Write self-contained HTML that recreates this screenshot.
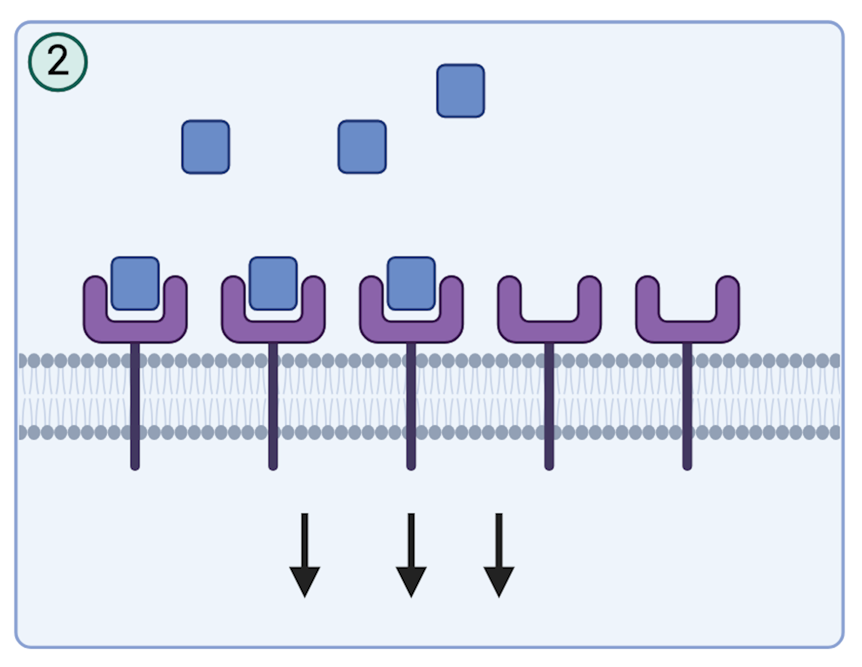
<!DOCTYPE html><html><head><meta charset="utf-8"><style>html,body{margin:0;padding:0;background:#fff;width:862px;height:667px;overflow:hidden}svg{display:block}</style></head><body><div id="w"><svg width="862" height="667" viewBox="0 0 862 667"><defs><filter id="bl" x="0" y="0" width="862" height="667" filterUnits="userSpaceOnUse"><feConvolveMatrix order="5" kernelMatrix="0.00123 -0.00473 -0.02800 -0.00473 0.00123 -0.00473 0.01823 0.10800 0.01823 -0.00473 -0.02800 0.10800 0.64000 0.10800 -0.02800 -0.00473 0.01823 0.10800 0.01823 -0.00473 0.00123 -0.00473 -0.02800 -0.00473 0.00123" divisor="1" edgeMode="duplicate"/></filter><clipPath id="pc"><rect x="19" y="24" width="821" height="621" rx="13"/></clipPath></defs><g filter="url(#bl)"><rect x="0" y="0" width="862" height="667" fill="#fff"/><rect x="15.9" y="22" width="827.2" height="625.3" rx="15" fill="#eef4fb" stroke="#8aa1d2" stroke-width="3.3"/><g clip-path="url(#pc)"><path d="M18.60 366Q18.50 384 16.20 394.2M22.60 366Q22.70 384 25.00 394.2M18.60 427Q18.50 409 16.20 398.4M22.60 427Q22.70 409 25.00 398.4M31.97 366Q31.87 384 29.57 394.2M35.97 366Q36.07 384 38.37 394.2M31.97 427Q31.87 409 29.57 398.4M35.97 427Q36.07 409 38.37 398.4M45.34 366Q45.24 384 42.94 394.2M49.34 366Q49.44 384 51.74 394.2M45.34 427Q45.24 409 42.94 398.4M49.34 427Q49.44 409 51.74 398.4M58.70 366Q58.60 384 56.30 394.2M62.70 366Q62.80 384 65.10 394.2M58.70 427Q58.60 409 56.30 398.4M62.70 427Q62.80 409 65.10 398.4M72.07 366Q71.97 384 69.67 394.2M76.07 366Q76.17 384 78.47 394.2M72.07 427Q71.97 409 69.67 398.4M76.07 427Q76.17 409 78.47 398.4M85.43 366Q85.33 384 83.03 394.2M89.43 366Q89.53 384 91.83 394.2M85.43 427Q85.33 409 83.03 398.4M89.43 427Q89.53 409 91.83 398.4M98.80 366Q98.70 384 96.40 394.2M102.80 366Q102.90 384 105.20 394.2M98.80 427Q98.70 409 96.40 398.4M102.80 427Q102.90 409 105.20 398.4M112.17 366Q112.07 384 109.77 394.2M116.17 366Q116.27 384 118.57 394.2M112.17 427Q112.07 409 109.77 398.4M116.17 427Q116.27 409 118.57 398.4M125.53 366Q125.43 384 123.13 394.2M129.53 366Q129.63 384 131.93 394.2M125.53 427Q125.43 409 123.13 398.4M129.53 427Q129.63 409 131.93 398.4M138.90 366Q138.80 384 136.50 394.2M142.90 366Q143.00 384 145.30 394.2M138.90 427Q138.80 409 136.50 398.4M142.90 427Q143.00 409 145.30 398.4M152.26 366Q152.16 384 149.86 394.2M156.26 366Q156.36 384 158.66 394.2M152.26 427Q152.16 409 149.86 398.4M156.26 427Q156.36 409 158.66 398.4M165.63 366Q165.53 384 163.23 394.2M169.63 366Q169.73 384 172.03 394.2M165.63 427Q165.53 409 163.23 398.4M169.63 427Q169.73 409 172.03 398.4M179.00 366Q178.90 384 176.60 394.2M183.00 366Q183.10 384 185.40 394.2M179.00 427Q178.90 409 176.60 398.4M183.00 427Q183.10 409 185.40 398.4M192.36 366Q192.26 384 189.96 394.2M196.36 366Q196.46 384 198.76 394.2M192.36 427Q192.26 409 189.96 398.4M196.36 427Q196.46 409 198.76 398.4M205.73 366Q205.63 384 203.33 394.2M209.73 366Q209.83 384 212.13 394.2M205.73 427Q205.63 409 203.33 398.4M209.73 427Q209.83 409 212.13 398.4M219.09 366Q218.99 384 216.69 394.2M223.09 366Q223.19 384 225.49 394.2M219.09 427Q218.99 409 216.69 398.4M223.09 427Q223.19 409 225.49 398.4M232.46 366Q232.36 384 230.06 394.2M236.46 366Q236.56 384 238.86 394.2M232.46 427Q232.36 409 230.06 398.4M236.46 427Q236.56 409 238.86 398.4M245.83 366Q245.73 384 243.43 394.2M249.83 366Q249.93 384 252.23 394.2M245.83 427Q245.73 409 243.43 398.4M249.83 427Q249.93 409 252.23 398.4M259.19 366Q259.09 384 256.79 394.2M263.19 366Q263.29 384 265.59 394.2M259.19 427Q259.09 409 256.79 398.4M263.19 427Q263.29 409 265.59 398.4M272.56 366Q272.46 384 270.16 394.2M276.56 366Q276.66 384 278.96 394.2M272.56 427Q272.46 409 270.16 398.4M276.56 427Q276.66 409 278.96 398.4M285.92 366Q285.82 384 283.52 394.2M289.92 366Q290.02 384 292.32 394.2M285.92 427Q285.82 409 283.52 398.4M289.92 427Q290.02 409 292.32 398.4M299.29 366Q299.19 384 296.89 394.2M303.29 366Q303.39 384 305.69 394.2M299.29 427Q299.19 409 296.89 398.4M303.29 427Q303.39 409 305.69 398.4M312.66 366Q312.56 384 310.26 394.2M316.66 366Q316.76 384 319.06 394.2M312.66 427Q312.56 409 310.26 398.4M316.66 427Q316.76 409 319.06 398.4M326.02 366Q325.92 384 323.62 394.2M330.02 366Q330.12 384 332.42 394.2M326.02 427Q325.92 409 323.62 398.4M330.02 427Q330.12 409 332.42 398.4M339.39 366Q339.29 384 336.99 394.2M343.39 366Q343.49 384 345.79 394.2M339.39 427Q339.29 409 336.99 398.4M343.39 427Q343.49 409 345.79 398.4M352.75 366Q352.65 384 350.35 394.2M356.75 366Q356.85 384 359.15 394.2M352.75 427Q352.65 409 350.35 398.4M356.75 427Q356.85 409 359.15 398.4M366.12 366Q366.02 384 363.72 394.2M370.12 366Q370.22 384 372.52 394.2M366.12 427Q366.02 409 363.72 398.4M370.12 427Q370.22 409 372.52 398.4M379.49 366Q379.39 384 377.09 394.2M383.49 366Q383.59 384 385.89 394.2M379.49 427Q379.39 409 377.09 398.4M383.49 427Q383.59 409 385.89 398.4M392.85 366Q392.75 384 390.45 394.2M396.85 366Q396.95 384 399.25 394.2M392.85 427Q392.75 409 390.45 398.4M396.85 427Q396.95 409 399.25 398.4M406.22 366Q406.12 384 403.82 394.2M410.22 366Q410.32 384 412.62 394.2M406.22 427Q406.12 409 403.82 398.4M410.22 427Q410.32 409 412.62 398.4M419.58 366Q419.48 384 417.18 394.2M423.58 366Q423.68 384 425.98 394.2M419.58 427Q419.48 409 417.18 398.4M423.58 427Q423.68 409 425.98 398.4M432.95 366Q432.85 384 430.55 394.2M436.95 366Q437.05 384 439.35 394.2M432.95 427Q432.85 409 430.55 398.4M436.95 427Q437.05 409 439.35 398.4M446.32 366Q446.22 384 443.92 394.2M450.32 366Q450.42 384 452.72 394.2M446.32 427Q446.22 409 443.92 398.4M450.32 427Q450.42 409 452.72 398.4M459.68 366Q459.58 384 457.28 394.2M463.68 366Q463.78 384 466.08 394.2M459.68 427Q459.58 409 457.28 398.4M463.68 427Q463.78 409 466.08 398.4M473.05 366Q472.95 384 470.65 394.2M477.05 366Q477.15 384 479.45 394.2M473.05 427Q472.95 409 470.65 398.4M477.05 427Q477.15 409 479.45 398.4M486.41 366Q486.31 384 484.01 394.2M490.41 366Q490.51 384 492.81 394.2M486.41 427Q486.31 409 484.01 398.4M490.41 427Q490.51 409 492.81 398.4M499.78 366Q499.68 384 497.38 394.2M503.78 366Q503.88 384 506.18 394.2M499.78 427Q499.68 409 497.38 398.4M503.78 427Q503.88 409 506.18 398.4M513.15 366Q513.05 384 510.75 394.2M517.15 366Q517.25 384 519.55 394.2M513.15 427Q513.05 409 510.75 398.4M517.15 427Q517.25 409 519.55 398.4M526.51 366Q526.41 384 524.11 394.2M530.51 366Q530.61 384 532.91 394.2M526.51 427Q526.41 409 524.11 398.4M530.51 427Q530.61 409 532.91 398.4M539.88 366Q539.78 384 537.48 394.2M543.88 366Q543.98 384 546.28 394.2M539.88 427Q539.78 409 537.48 398.4M543.88 427Q543.98 409 546.28 398.4M553.24 366Q553.14 384 550.84 394.2M557.24 366Q557.34 384 559.64 394.2M553.24 427Q553.14 409 550.84 398.4M557.24 427Q557.34 409 559.64 398.4M566.61 366Q566.51 384 564.21 394.2M570.61 366Q570.71 384 573.01 394.2M566.61 427Q566.51 409 564.21 398.4M570.61 427Q570.71 409 573.01 398.4M579.98 366Q579.88 384 577.58 394.2M583.98 366Q584.08 384 586.38 394.2M579.98 427Q579.88 409 577.58 398.4M583.98 427Q584.08 409 586.38 398.4M593.34 366Q593.24 384 590.94 394.2M597.34 366Q597.44 384 599.74 394.2M593.34 427Q593.24 409 590.94 398.4M597.34 427Q597.44 409 599.74 398.4M606.71 366Q606.61 384 604.31 394.2M610.71 366Q610.81 384 613.11 394.2M606.71 427Q606.61 409 604.31 398.4M610.71 427Q610.81 409 613.11 398.4M620.07 366Q619.97 384 617.67 394.2M624.07 366Q624.17 384 626.47 394.2M620.07 427Q619.97 409 617.67 398.4M624.07 427Q624.17 409 626.47 398.4M633.44 366Q633.34 384 631.04 394.2M637.44 366Q637.54 384 639.84 394.2M633.44 427Q633.34 409 631.04 398.4M637.44 427Q637.54 409 639.84 398.4M646.81 366Q646.71 384 644.41 394.2M650.81 366Q650.91 384 653.21 394.2M646.81 427Q646.71 409 644.41 398.4M650.81 427Q650.91 409 653.21 398.4M660.17 366Q660.07 384 657.77 394.2M664.17 366Q664.27 384 666.57 394.2M660.17 427Q660.07 409 657.77 398.4M664.17 427Q664.27 409 666.57 398.4M673.54 366Q673.44 384 671.14 394.2M677.54 366Q677.64 384 679.94 394.2M673.54 427Q673.44 409 671.14 398.4M677.54 427Q677.64 409 679.94 398.4M686.90 366Q686.80 384 684.50 394.2M690.90 366Q691.00 384 693.30 394.2M686.90 427Q686.80 409 684.50 398.4M690.90 427Q691.00 409 693.30 398.4M700.27 366Q700.17 384 697.87 394.2M704.27 366Q704.37 384 706.67 394.2M700.27 427Q700.17 409 697.87 398.4M704.27 427Q704.37 409 706.67 398.4M713.64 366Q713.54 384 711.24 394.2M717.64 366Q717.74 384 720.04 394.2M713.64 427Q713.54 409 711.24 398.4M717.64 427Q717.74 409 720.04 398.4M727.00 366Q726.90 384 724.60 394.2M731.00 366Q731.10 384 733.40 394.2M727.00 427Q726.90 409 724.60 398.4M731.00 427Q731.10 409 733.40 398.4M740.37 366Q740.27 384 737.97 394.2M744.37 366Q744.47 384 746.77 394.2M740.37 427Q740.27 409 737.97 398.4M744.37 427Q744.47 409 746.77 398.4M753.73 366Q753.63 384 751.33 394.2M757.73 366Q757.83 384 760.13 394.2M753.73 427Q753.63 409 751.33 398.4M757.73 427Q757.83 409 760.13 398.4M767.10 366Q767.00 384 764.70 394.2M771.10 366Q771.20 384 773.50 394.2M767.10 427Q767.00 409 764.70 398.4M771.10 427Q771.20 409 773.50 398.4M780.47 366Q780.37 384 778.07 394.2M784.47 366Q784.57 384 786.87 394.2M780.47 427Q780.37 409 778.07 398.4M784.47 427Q784.57 409 786.87 398.4M793.83 366Q793.73 384 791.43 394.2M797.83 366Q797.93 384 800.23 394.2M793.83 427Q793.73 409 791.43 398.4M797.83 427Q797.93 409 800.23 398.4M807.20 366Q807.10 384 804.80 394.2M811.20 366Q811.30 384 813.60 394.2M807.20 427Q807.10 409 804.80 398.4M811.20 427Q811.30 409 813.60 398.4M820.56 366Q820.46 384 818.16 394.2M824.56 366Q824.66 384 826.96 394.2M820.56 427Q820.46 409 818.16 398.4M824.56 427Q824.66 409 826.96 398.4M833.93 366Q833.83 384 831.53 394.2M837.93 366Q838.03 384 840.33 394.2M833.93 427Q833.83 409 831.53 398.4M837.93 427Q838.03 409 840.33 398.4M847.30 366Q847.20 384 844.90 394.2M851.30 366Q851.40 384 853.70 394.2M847.30 427Q847.20 409 844.90 398.4M851.30 427Q851.40 409 853.70 398.4" fill="none" stroke="#c9d5e8" stroke-width="1.8" stroke-linecap="butt"/><g fill="#92a0b5"><ellipse cx="20.60" cy="360.75" rx="6.55" ry="7.4"/><ellipse cx="20.60" cy="432.5" rx="6.55" ry="7.4"/><ellipse cx="33.97" cy="360.75" rx="6.55" ry="7.4"/><ellipse cx="33.97" cy="432.5" rx="6.55" ry="7.4"/><ellipse cx="47.34" cy="360.75" rx="6.55" ry="7.4"/><ellipse cx="47.34" cy="432.5" rx="6.55" ry="7.4"/><ellipse cx="60.70" cy="360.75" rx="6.55" ry="7.4"/><ellipse cx="60.70" cy="432.5" rx="6.55" ry="7.4"/><ellipse cx="74.07" cy="360.75" rx="6.55" ry="7.4"/><ellipse cx="74.07" cy="432.5" rx="6.55" ry="7.4"/><ellipse cx="87.43" cy="360.75" rx="6.55" ry="7.4"/><ellipse cx="87.43" cy="432.5" rx="6.55" ry="7.4"/><ellipse cx="100.80" cy="360.75" rx="6.55" ry="7.4"/><ellipse cx="100.80" cy="432.5" rx="6.55" ry="7.4"/><ellipse cx="114.17" cy="360.75" rx="6.55" ry="7.4"/><ellipse cx="114.17" cy="432.5" rx="6.55" ry="7.4"/><ellipse cx="127.53" cy="360.75" rx="6.55" ry="7.4"/><ellipse cx="127.53" cy="432.5" rx="6.55" ry="7.4"/><ellipse cx="140.90" cy="360.75" rx="6.55" ry="7.4"/><ellipse cx="140.90" cy="432.5" rx="6.55" ry="7.4"/><ellipse cx="154.26" cy="360.75" rx="6.55" ry="7.4"/><ellipse cx="154.26" cy="432.5" rx="6.55" ry="7.4"/><ellipse cx="167.63" cy="360.75" rx="6.55" ry="7.4"/><ellipse cx="167.63" cy="432.5" rx="6.55" ry="7.4"/><ellipse cx="181.00" cy="360.75" rx="6.55" ry="7.4"/><ellipse cx="181.00" cy="432.5" rx="6.55" ry="7.4"/><ellipse cx="194.36" cy="360.75" rx="6.55" ry="7.4"/><ellipse cx="194.36" cy="432.5" rx="6.55" ry="7.4"/><ellipse cx="207.73" cy="360.75" rx="6.55" ry="7.4"/><ellipse cx="207.73" cy="432.5" rx="6.55" ry="7.4"/><ellipse cx="221.09" cy="360.75" rx="6.55" ry="7.4"/><ellipse cx="221.09" cy="432.5" rx="6.55" ry="7.4"/><ellipse cx="234.46" cy="360.75" rx="6.55" ry="7.4"/><ellipse cx="234.46" cy="432.5" rx="6.55" ry="7.4"/><ellipse cx="247.83" cy="360.75" rx="6.55" ry="7.4"/><ellipse cx="247.83" cy="432.5" rx="6.55" ry="7.4"/><ellipse cx="261.19" cy="360.75" rx="6.55" ry="7.4"/><ellipse cx="261.19" cy="432.5" rx="6.55" ry="7.4"/><ellipse cx="274.56" cy="360.75" rx="6.55" ry="7.4"/><ellipse cx="274.56" cy="432.5" rx="6.55" ry="7.4"/><ellipse cx="287.92" cy="360.75" rx="6.55" ry="7.4"/><ellipse cx="287.92" cy="432.5" rx="6.55" ry="7.4"/><ellipse cx="301.29" cy="360.75" rx="6.55" ry="7.4"/><ellipse cx="301.29" cy="432.5" rx="6.55" ry="7.4"/><ellipse cx="314.66" cy="360.75" rx="6.55" ry="7.4"/><ellipse cx="314.66" cy="432.5" rx="6.55" ry="7.4"/><ellipse cx="328.02" cy="360.75" rx="6.55" ry="7.4"/><ellipse cx="328.02" cy="432.5" rx="6.55" ry="7.4"/><ellipse cx="341.39" cy="360.75" rx="6.55" ry="7.4"/><ellipse cx="341.39" cy="432.5" rx="6.55" ry="7.4"/><ellipse cx="354.75" cy="360.75" rx="6.55" ry="7.4"/><ellipse cx="354.75" cy="432.5" rx="6.55" ry="7.4"/><ellipse cx="368.12" cy="360.75" rx="6.55" ry="7.4"/><ellipse cx="368.12" cy="432.5" rx="6.55" ry="7.4"/><ellipse cx="381.49" cy="360.75" rx="6.55" ry="7.4"/><ellipse cx="381.49" cy="432.5" rx="6.55" ry="7.4"/><ellipse cx="394.85" cy="360.75" rx="6.55" ry="7.4"/><ellipse cx="394.85" cy="432.5" rx="6.55" ry="7.4"/><ellipse cx="408.22" cy="360.75" rx="6.55" ry="7.4"/><ellipse cx="408.22" cy="432.5" rx="6.55" ry="7.4"/><ellipse cx="421.58" cy="360.75" rx="6.55" ry="7.4"/><ellipse cx="421.58" cy="432.5" rx="6.55" ry="7.4"/><ellipse cx="434.95" cy="360.75" rx="6.55" ry="7.4"/><ellipse cx="434.95" cy="432.5" rx="6.55" ry="7.4"/><ellipse cx="448.32" cy="360.75" rx="6.55" ry="7.4"/><ellipse cx="448.32" cy="432.5" rx="6.55" ry="7.4"/><ellipse cx="461.68" cy="360.75" rx="6.55" ry="7.4"/><ellipse cx="461.68" cy="432.5" rx="6.55" ry="7.4"/><ellipse cx="475.05" cy="360.75" rx="6.55" ry="7.4"/><ellipse cx="475.05" cy="432.5" rx="6.55" ry="7.4"/><ellipse cx="488.41" cy="360.75" rx="6.55" ry="7.4"/><ellipse cx="488.41" cy="432.5" rx="6.55" ry="7.4"/><ellipse cx="501.78" cy="360.75" rx="6.55" ry="7.4"/><ellipse cx="501.78" cy="432.5" rx="6.55" ry="7.4"/><ellipse cx="515.15" cy="360.75" rx="6.55" ry="7.4"/><ellipse cx="515.15" cy="432.5" rx="6.55" ry="7.4"/><ellipse cx="528.51" cy="360.75" rx="6.55" ry="7.4"/><ellipse cx="528.51" cy="432.5" rx="6.55" ry="7.4"/><ellipse cx="541.88" cy="360.75" rx="6.55" ry="7.4"/><ellipse cx="541.88" cy="432.5" rx="6.55" ry="7.4"/><ellipse cx="555.24" cy="360.75" rx="6.55" ry="7.4"/><ellipse cx="555.24" cy="432.5" rx="6.55" ry="7.4"/><ellipse cx="568.61" cy="360.75" rx="6.55" ry="7.4"/><ellipse cx="568.61" cy="432.5" rx="6.55" ry="7.4"/><ellipse cx="581.98" cy="360.75" rx="6.55" ry="7.4"/><ellipse cx="581.98" cy="432.5" rx="6.55" ry="7.4"/><ellipse cx="595.34" cy="360.75" rx="6.55" ry="7.4"/><ellipse cx="595.34" cy="432.5" rx="6.55" ry="7.4"/><ellipse cx="608.71" cy="360.75" rx="6.55" ry="7.4"/><ellipse cx="608.71" cy="432.5" rx="6.55" ry="7.4"/><ellipse cx="622.07" cy="360.75" rx="6.55" ry="7.4"/><ellipse cx="622.07" cy="432.5" rx="6.55" ry="7.4"/><ellipse cx="635.44" cy="360.75" rx="6.55" ry="7.4"/><ellipse cx="635.44" cy="432.5" rx="6.55" ry="7.4"/><ellipse cx="648.81" cy="360.75" rx="6.55" ry="7.4"/><ellipse cx="648.81" cy="432.5" rx="6.55" ry="7.4"/><ellipse cx="662.17" cy="360.75" rx="6.55" ry="7.4"/><ellipse cx="662.17" cy="432.5" rx="6.55" ry="7.4"/><ellipse cx="675.54" cy="360.75" rx="6.55" ry="7.4"/><ellipse cx="675.54" cy="432.5" rx="6.55" ry="7.4"/><ellipse cx="688.90" cy="360.75" rx="6.55" ry="7.4"/><ellipse cx="688.90" cy="432.5" rx="6.55" ry="7.4"/><ellipse cx="702.27" cy="360.75" rx="6.55" ry="7.4"/><ellipse cx="702.27" cy="432.5" rx="6.55" ry="7.4"/><ellipse cx="715.64" cy="360.75" rx="6.55" ry="7.4"/><ellipse cx="715.64" cy="432.5" rx="6.55" ry="7.4"/><ellipse cx="729.00" cy="360.75" rx="6.55" ry="7.4"/><ellipse cx="729.00" cy="432.5" rx="6.55" ry="7.4"/><ellipse cx="742.37" cy="360.75" rx="6.55" ry="7.4"/><ellipse cx="742.37" cy="432.5" rx="6.55" ry="7.4"/><ellipse cx="755.73" cy="360.75" rx="6.55" ry="7.4"/><ellipse cx="755.73" cy="432.5" rx="6.55" ry="7.4"/><ellipse cx="769.10" cy="360.75" rx="6.55" ry="7.4"/><ellipse cx="769.10" cy="432.5" rx="6.55" ry="7.4"/><ellipse cx="782.47" cy="360.75" rx="6.55" ry="7.4"/><ellipse cx="782.47" cy="432.5" rx="6.55" ry="7.4"/><ellipse cx="795.83" cy="360.75" rx="6.55" ry="7.4"/><ellipse cx="795.83" cy="432.5" rx="6.55" ry="7.4"/><ellipse cx="809.20" cy="360.75" rx="6.55" ry="7.4"/><ellipse cx="809.20" cy="432.5" rx="6.55" ry="7.4"/><ellipse cx="822.56" cy="360.75" rx="6.55" ry="7.4"/><ellipse cx="822.56" cy="432.5" rx="6.55" ry="7.4"/><ellipse cx="835.93" cy="360.75" rx="6.55" ry="7.4"/><ellipse cx="835.93" cy="432.5" rx="6.55" ry="7.4"/><ellipse cx="849.30" cy="360.75" rx="6.55" ry="7.4"/><ellipse cx="849.30" cy="432.5" rx="6.55" ry="7.4"/></g></g><line x1="135.05" y1="340" x2="135.05" y2="466" stroke="#433760" stroke-width="10" stroke-linecap="round"/><path d="M84.00 287.65A11.25 11.25 0 0 1 106.50 287.65L106.50 313.60A8 8 0 0 0 114.50 321.60L156.10 321.60A8 8 0 0 0 164.10 313.60L164.10 287.65A11.25 11.25 0 0 1 186.60 287.65L186.60 324.50A18 18 0 0 1 168.60 342.50L102.00 342.50A18 18 0 0 1 84.00 324.50Z" fill="#8b63aa" stroke="#371c4c" stroke-width="2.8" stroke-linejoin="round"/><rect x="111.80" y="257.30" width="46.80" height="52.30" rx="7.5" fill="#6a8cc8" stroke="#283a78" stroke-width="2.8"/><line x1="273.12" y1="340" x2="273.12" y2="466" stroke="#433760" stroke-width="10" stroke-linecap="round"/><path d="M222.07 287.65A11.25 11.25 0 0 1 244.57 287.65L244.57 313.60A8 8 0 0 0 252.57 321.60L294.17 321.60A8 8 0 0 0 302.17 313.60L302.17 287.65A11.25 11.25 0 0 1 324.67 287.65L324.67 324.50A18 18 0 0 1 306.67 342.50L240.07 342.50A18 18 0 0 1 222.07 324.50Z" fill="#8b63aa" stroke="#371c4c" stroke-width="2.8" stroke-linejoin="round"/><rect x="249.87" y="257.30" width="46.80" height="52.30" rx="7.5" fill="#6a8cc8" stroke="#283a78" stroke-width="2.8"/><line x1="411.19" y1="340" x2="411.19" y2="466" stroke="#433760" stroke-width="10" stroke-linecap="round"/><path d="M360.14 287.65A11.25 11.25 0 0 1 382.64 287.65L382.64 313.60A8 8 0 0 0 390.64 321.60L432.24 321.60A8 8 0 0 0 440.24 313.60L440.24 287.65A11.25 11.25 0 0 1 462.74 287.65L462.74 324.50A18 18 0 0 1 444.74 342.50L378.14 342.50A18 18 0 0 1 360.14 324.50Z" fill="#8b63aa" stroke="#371c4c" stroke-width="2.8" stroke-linejoin="round"/><rect x="387.94" y="257.30" width="46.80" height="52.30" rx="7.5" fill="#6a8cc8" stroke="#283a78" stroke-width="2.8"/><line x1="549.26" y1="340" x2="549.26" y2="466" stroke="#433760" stroke-width="10" stroke-linecap="round"/><path d="M498.21 287.65A11.25 11.25 0 0 1 520.71 287.65L520.71 313.60A8 8 0 0 0 528.71 321.60L570.31 321.60A8 8 0 0 0 578.31 313.60L578.31 287.65A11.25 11.25 0 0 1 600.81 287.65L600.81 324.50A18 18 0 0 1 582.81 342.50L516.21 342.50A18 18 0 0 1 498.21 324.50Z" fill="#8b63aa" stroke="#371c4c" stroke-width="2.8" stroke-linejoin="round"/><line x1="687.33" y1="340" x2="687.33" y2="466" stroke="#433760" stroke-width="10" stroke-linecap="round"/><path d="M636.28 287.65A11.25 11.25 0 0 1 658.78 287.65L658.78 313.60A8 8 0 0 0 666.78 321.60L708.38 321.60A8 8 0 0 0 716.38 313.60L716.38 287.65A11.25 11.25 0 0 1 738.88 287.65L738.88 324.50A18 18 0 0 1 720.88 342.50L654.28 342.50A18 18 0 0 1 636.28 324.50Z" fill="#8b63aa" stroke="#371c4c" stroke-width="2.8" stroke-linejoin="round"/><rect x="182.40" y="121.00" width="46.50" height="52.00" rx="7.5" fill="#6a8cc8" stroke="#283a78" stroke-width="2.8"/><rect x="338.80" y="121.00" width="46.90" height="51.80" rx="7.5" fill="#6a8cc8" stroke="#283a78" stroke-width="2.8"/><rect x="437.40" y="65.00" width="46.50" height="51.80" rx="7.5" fill="#6a8cc8" stroke="#283a78" stroke-width="2.8"/><circle cx="57.95" cy="62.1" r="28.15" fill="#d6ece9" stroke="#1f5e52" stroke-width="4"/><path d="M49.9 53.9C49.9 48.9 53.3 46 57.6 46C62 46 64.9 48.8 64.9 52.5C64.9 55.2 63.8 57.2 61.6 59.7L50.8 71.8" fill="none" stroke="#0c0c0c" stroke-width="4.1"/><rect x="48.3" y="70.85" width="20.1" height="3.85" fill="#0c0c0c"/><rect x="301.25" y="513" width="7" height="55" fill="#222222"/><path d="M288.85 566.7L320.65 566.7L304.75 598.6Z" fill="#222222"/><rect x="407.75" y="513" width="7" height="55" fill="#222222"/><path d="M395.35 566.7L427.15 566.7L411.25 598.6Z" fill="#222222"/><rect x="495.50" y="513" width="7" height="55" fill="#222222"/><path d="M483.10 566.7L514.90 566.7L499.00 598.6Z" fill="#222222"/></g></svg></div></body></html>
